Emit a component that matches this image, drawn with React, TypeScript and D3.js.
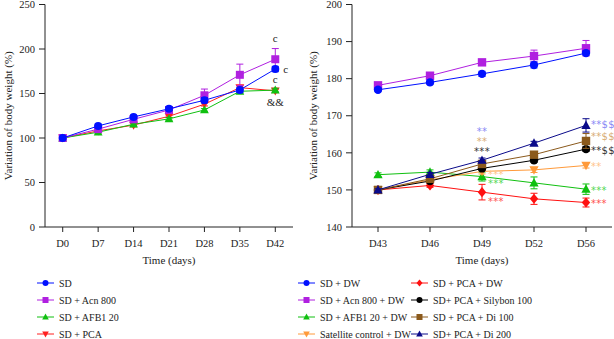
import React from "react";
import * as d3 from "d3";

// ---- Panel A: days 0–42 ----
const daysA = ["D0", "D7", "D14", "D21", "D28", "D35", "D42"];
const sdA = [100, 113.6, 123.7, 132.8, 142.4, 154, 177.5];
const sdAErr = [1, 2, 2, 2, 3, 3, 3];
const acnA = [100, 110, 121, 131.5, 148, 171, 188.5];
const acnAErr = [1, 2, 2, 2, 7, 12, 12];
const afbA = [100, 106.5, 115.5, 121.5, 131.5, 152.5, 153.8];
const afbAErr = [1, 1, 1.5, 1.5, 1.5, 2, 2];
const pcaA = [100, 108, 114.5, 124.4, 138, 156.6, 153];
const pcaAErr = [1, 1.5, 2, 1.5, 2, 2.5, 2];
const ticksA = [0, 50, 100, 150, 200, 250];

// ---- Panel B: days 43–56 ----
const daysB = ["D43", "D46", "D49", "D52", "D56"];
const sdDW = [177, 179, 181.3, 183.7, 186.9];
const sdDWErr = [0.5, 0.6, 0.7, 0.8, 0.6];
const acnDW = [178.2, 180.8, 184.4, 186.1, 188.2];
const acnDWErr = [0.6, 0.7, 0.7, 1.6, 2.1];
const afbDW = [154.1, 154.8, 153.6, 151.9, 150.2];
const afbDWErr = [0.5, 0.6, 1.2, 1.6, 1.4];
const satDW = [150, 152.7, 155, 155.4, 156.6];
const satDWErr = [0.3, 0.5, 0.7, 0.7, 0.7];
const pcaDW = [150, 151.2, 149.4, 147.6, 146.6];
const pcaDWErr = [0.4, 0.5, 2.1, 1.5, 1.2];
const sily100 = [150, 152.4, 155.8, 158, 161];
const sily100Err = [0.3, 0.5, 0.5, 0.6, 0.6];
const di100 = [150, 153, 157, 159.5, 163.2];
const di100Err = [0.3, 0.5, 0.6, 0.8, 2];
const di200 = [150, 154.2, 158, 162.6, 167.4];
const di200Err = [0.3, 0.5, 0.6, 0.5, 1.8];
const ticksB = [140, 150, 160, 170, 180, 190, 200];

type Shape = "circle" | "square" | "triangle" | "down" | "diamond";
interface Series {
  name: string;
  color: string;
  shape: Shape;
  values: number[];
  errors: number[];
}

const seriesA: Series[] = [
  { name: "SD + PCA", color: "#ff2020", shape: "down", values: pcaA, errors: pcaAErr },
  { name: "SD + AFB1 20", color: "#10c010", shape: "triangle", values: afbA, errors: afbAErr },
  { name: "SD + Acn 800", color: "#b020e0", shape: "square", values: acnA, errors: acnAErr },
  { name: "SD", color: "#0010ff", shape: "circle", values: sdA, errors: sdAErr },
];
const legendA = ["SD", "SD + Acn 800", "SD + AFB1 20", "SD + PCA"];

const seriesB: Series[] = [
  { name: "SD + PCA + DW", color: "#ff1010", shape: "diamond", values: pcaDW, errors: pcaDWErr },
  { name: "SD + AFB1 20 + DW", color: "#10c010", shape: "triangle", values: afbDW, errors: afbDWErr },
  { name: "Satellite control + DW", color: "#ff9a3a", shape: "down", values: satDW, errors: satDWErr },
  { name: "SD+ PCA + Silybon 100", color: "#000000", shape: "circle", values: sily100, errors: sily100Err },
  { name: "SD + PCA + Di 100", color: "#8b5a1c", shape: "square", values: di100, errors: di100Err },
  { name: "SD+ PCA + Di 200", color: "#0a0a8a", shape: "triangle", values: di200, errors: di200Err },
  { name: "SD + Acn 800 + DW", color: "#b020e0", shape: "square", values: acnDW, errors: acnDWErr },
  { name: "SD + DW", color: "#0010ff", shape: "circle", values: sdDW, errors: sdDWErr },
];
const legendB1 = ["SD + DW", "SD + Acn 800 + DW", "SD + AFB1 20 + DW", "Satellite control + DW"];
const legendB2 = ["SD + PCA + DW", "SD+ PCA + Silybon 100", "SD + PCA + Di 100", "SD+ PCA + Di 200"];

// Significance marks: [category index, value level, text, colour, x offset]
const marksA: [number, number, string, string, number][] = [
  [6, 212, "c", "#222", 0],
  [6, 177.5, "c", "#222", 8],
  [6, 166, "c", "#222", 0],
  [6, 140, "&&", "#222", 0],
];
const marksB: [number, number, string, string, number][] = [
  [2, 165.9, "**", "#8a8af5", 0],
  [2, 163.2, "**", "#d8ad75", 0],
  [2, 160.6, "***", "#333333", 0],
  [2, 154.3, "***", "#ffc48a", 6],
  [2, 151.9, "***", "#55d855", 6],
  [2, 147.1, "***", "#ff5050", 6],
  [4, 167.8, "**$$", "#8a8af5", 5],
  [4, 164.6, "**$$", "#d8ad75", 5],
  [4, 160.8, "**$$", "#333333", 5],
  [4, 156.5, "**", "#ffc48a", 5],
  [4, 150.1, "***", "#55d855", 5],
  [4, 146.6, "***", "#ff5050", 5],
];

const FONT = "\"Liberation Serif\", \"DejaVu Serif\", \"Times New Roman\", serif";

function marker(shape: Shape, x: number, y: number, r: number, color: string, key?: string) {
  switch (shape) {
    case "circle":
      return <circle key={key} cx={x} cy={y} r={r} fill={color} />;
    case "square":
      return <rect key={key} x={x - r} y={y - r} width={2 * r} height={2 * r} fill={color} />;
    case "triangle": {
      const p = `${x},${y - r * 1.15} ${x - r * 1.1},${y + r * 0.85} ${x + r * 1.1},${y + r * 0.85}`;
      return <polygon key={key} points={p} fill={color} />;
    }
    case "down": {
      const p = `${x},${y + r * 1.15} ${x - r * 1.1},${y - r * 0.85} ${x + r * 1.1},${y - r * 0.85}`;
      return <polygon key={key} points={p} fill={color} />;
    }
    case "diamond": {
      const p = `${x},${y - r * 1.2} ${x + r},${y} ${x},${y + r * 1.2} ${x - r},${y}`;
      return <polygon key={key} points={p} fill={color} />;
    }
  }
}

interface PanelProps {
  cats: string[];
  series: Series[];
  ticks: number[];
  yDomain: [number, number];
  x0: number;
  x1: number;
  marks: [number, number, string, string, number][];
  titleX: number;
  r: number;
}

function Panel({ cats, series, ticks, yDomain, x0, x1, marks, titleX, r }: PanelProps) {
  const top = 4.5;
  const bottom = 227;
  const x = d3.scalePoint<string>().domain(cats).range([x0, x1]).padding(0.5);
  const y = d3.scaleLinear().domain(yDomain).range([bottom, top]);
  const line = d3
    .line<number>()
    .x((_, i) => x(cats[i]) as number)
    .y((d) => y(d));
  const midY = (top + bottom) / 2;
  return (
    <g>
      {/* axes */}
      <line x1={x0} x2={x0} y1={top} y2={bottom} stroke="#222" strokeWidth={1} />
      <line x1={x0} x2={x1} y1={bottom} y2={bottom} stroke="#222" strokeWidth={1} />
      {ticks.map((t) => (
        <g key={t}>
          <line x1={x0 - 6} x2={x0} y1={y(t)} y2={y(t)} stroke="#222" />
          <text x={x0 - 10} y={y(t)} dy="0.35em" textAnchor="end" fontSize={10.5} fill="#222">
            {t}
          </text>
        </g>
      ))}
      {cats.map((c) => (
        <g key={c}>
          <line x1={x(c)} x2={x(c)} y1={bottom} y2={bottom + 5} stroke="#222" />
          <text x={x(c)} y={bottom + 20} textAnchor="middle" fontSize={10.5} fill="#222">
            {c}
          </text>
        </g>
      ))}
      <text x={(x0 + x1) / 2} y={bottom + 37} textAnchor="middle" fontSize={11} fill="#222">
        Time (days)
      </text>
      <text
        transform={`translate(${titleX},${midY}) rotate(-90)`}
        textAnchor="middle"
        dy="0.35em"
        fontSize={11}
        fill="#222"
      >
        Variation of body weight (%)
      </text>
      {/* series */}
      {series.map((s) => (
        <g key={s.name}>
          <path d={line(s.values) || ""} fill="none" stroke={s.color} strokeWidth={1} />
          {s.values.map((v, i) => {
            const cx = x(cats[i]) as number;
            const hi = y(v + s.errors[i]);
            const lo = y(v - s.errors[i]);
            return (
              <g key={i} stroke={s.color} strokeWidth={1}>
                <line x1={cx} x2={cx} y1={hi} y2={lo} />
                <line x1={cx - 3.5} x2={cx + 3.5} y1={hi} y2={hi} />
                <line x1={cx - 3.5} x2={cx + 3.5} y1={lo} y2={lo} />
              </g>
            );
          })}
          {s.values.map((v, i) => marker(s.shape, x(cats[i]) as number, y(v), r, s.color, `m${i}`))}
        </g>
      ))}
      {/* significance marks */}
      {marks.map(([ci, v, t, col, dx], i) => {
        const isStar = t.includes("*");
        const anchor = dx > 0 ? "start" : "middle";
        const px = (x(cats[ci]) as number) + dx;
        return (
          <text
            key={i}
            x={px}
            y={y(v) + (isStar ? 4.5 : 3.5)}
            textAnchor={anchor}
            fontSize={isStar ? 10 : 11}
            letterSpacing={isStar ? 0.3 : 0}
            fontFamily={isStar ? "\"DejaVu Sans\", sans-serif" : undefined}
            fill={col}
          >
            {t}
          </text>
        );
      })}
    </g>
  );
}

function LegendColumn({ names, all, x, y0 }: { names: string[]; all: Series[]; x: number; y0: number }) {
  return (
    <g>
      {names.map((n, i) => {
        const s = all.find((d) => d.name === n)!;
        const yy = y0 + i * 17;
        return (
          <g key={n}>
            <line x1={x} x2={x + 17} y1={yy} y2={yy} stroke={s.color} strokeWidth={1} />
            {marker(s.shape, x + 8.5, yy, 3, s.color)}
            <text x={x + 22} y={yy} dy="0.35em" fontSize={10} fill="#222">
              {n}
            </text>
          </g>
        );
      })}
    </g>
  );
}

export default function App() {
  return (
    <svg
      width={614}
      height={339}
      fontFamily={FONT}
      style={{ position: "absolute", left: 0, top: 0, background: "#fff", fontFamily: FONT }}
    >
      <Panel
        cats={daysA}
        series={seriesA}
        ticks={ticksA}
        yDomain={[0, 250]}
        x0={45}
        x1={293}
        marks={marksA}
        titleX={8}
        r={4}
      />
      <Panel
        cats={daysB}
        series={seriesB}
        ticks={ticksB}
        yDomain={[140, 200]}
        x0={352}
        x1={612}
        marks={marksB}
        titleX={313}
        r={4.2}
      />
      <LegendColumn names={legendA} all={seriesA} x={37} y0={283} />
      <LegendColumn names={legendB1} all={seriesB} x={298} y0={283} />
      <LegendColumn names={legendB2} all={seriesB} x={411} y0={283} />
    </svg>
  );
}
